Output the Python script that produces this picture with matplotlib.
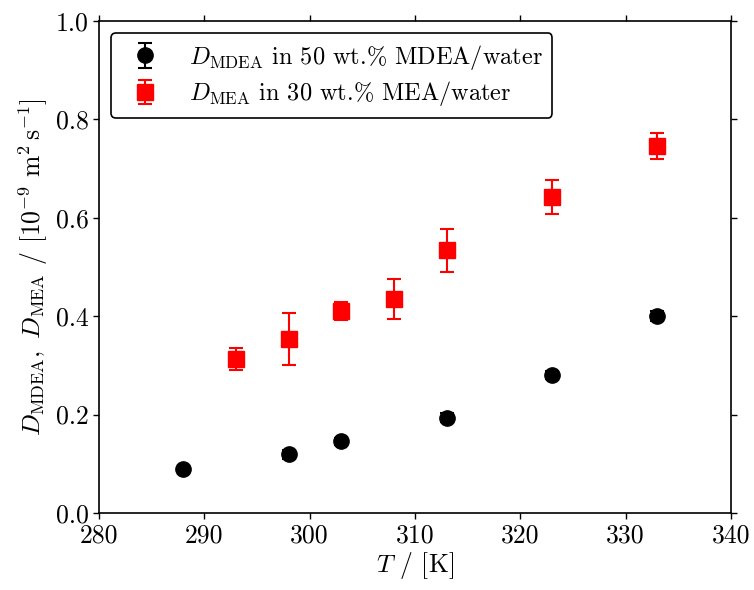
import matplotlib
matplotlib.use("Agg")
import matplotlib.pyplot as plt

plt.rcParams['font.family'] = ['serif']
plt.rcParams['font.serif'] = ['cmr10', 'DejaVu Serif']
plt.rcParams['mathtext.fontset'] = 'cm'
plt.rcParams['axes.unicode_minus'] = False
plt.rcParams['axes.formatter.use_mathtext'] = True

T_mdea = [288, 298, 303, 313, 323, 333]
D_mdea = [0.089, 0.119, 0.146, 0.194, 0.281, 0.401]
err_mdea = [0.004, 0.010, 0.007, 0.010, 0.008, 0.010]

T_mea = [293, 298, 303, 308, 313, 323, 333]
D_mea = [0.313, 0.353, 0.410, 0.435, 0.534, 0.642, 0.746]
err_mea = [0.023, 0.053, 0.018, 0.040, 0.044, 0.034, 0.026]

xticks = [280, 290, 300, 310, 320, 330, 340]
yticks = [0.0, 0.2, 0.4, 0.6, 0.8, 1.0]

fig = plt.figure(figsize=(7.54, 5.9), dpi=100)
ax = fig.add_axes([99/754, 1 - 513/590, 632/754, 492/590])

ax.errorbar(T_mdea, D_mdea, yerr=err_mdea, fmt='o', color='black', ms=11,
            capsize=5, elinewidth=1.5, capthick=1.5,
            label=r'$D_{\rm MDEA}$ in 50 wt.% MDEA/water')
ax.errorbar(T_mea, D_mea, yerr=err_mea, fmt='s', color='red', ms=11,
            capsize=5, elinewidth=1.5, capthick=1.5,
            label=r'$D_{\rm MEA}$ in 30 wt.% MEA/water')

ax.set_xlim(280, 340)
ax.set_ylim(0, 1.0)
ax.set_xticks(xticks)
ax.set_yticks(yticks)
ax.set_xticklabels([str(v) for v in xticks])
ax.set_yticklabels([f'{v:.1f}' for v in yticks])
ax.tick_params(direction='out', top=True, right=True, labelsize=18.5, length=4, width=1)
for s in ax.spines.values():
    s.set_linewidth(1.2)

ax.set_xlabel(r'$T$ / [K]', fontsize=18.5, labelpad=2)
ax.set_ylabel(r'$D_{\rm MDEA},\ D_{\rm MEA}$ / [$10^{-9}\ {\rm m}^2\,{\rm s}^{-1}$]', fontsize=18.5)

leg = ax.legend(loc='upper left', fontsize=17.5, frameon=True, fancybox=True,
                framealpha=1, edgecolor='black', borderaxespad=0.5, labelspacing=0.3)
leg.get_frame().set_linewidth(1.2)

fig.savefig('out.png', dpi=100)
